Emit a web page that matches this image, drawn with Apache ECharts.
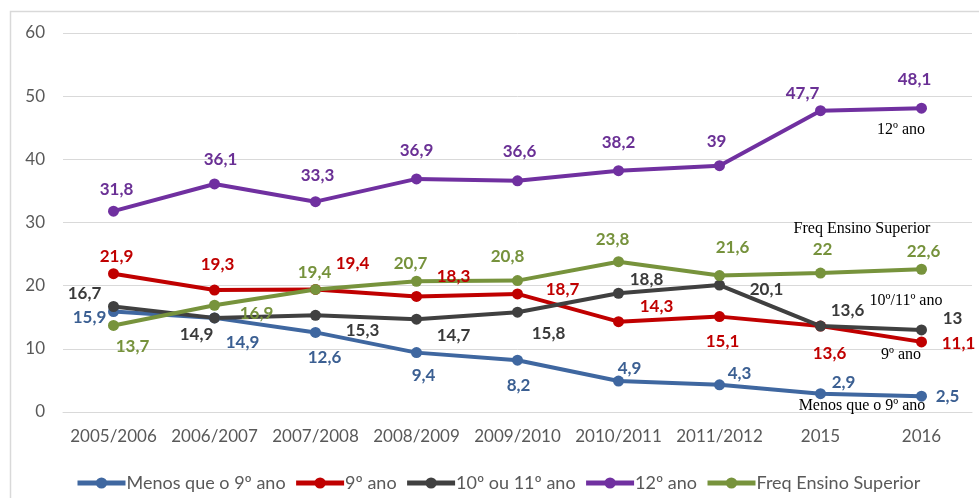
<!DOCTYPE html>
<html>
<head>
<meta charset="utf-8">
<script src="https://cdn.jsdelivr.net/npm/echarts@6/dist/echarts.min.js"></script>
<style>
  html, body { margin: 0; padding: 0; background: #ffffff; }
  #chart { width: 979px; height: 498px; }
</style>
</head>
<body>
<div id="chart"></div>
<script>
// School years / years on the horizontal axis
const categories = ['2005/2006', '2006/2007', '2007/2008', '2008/2009', '2009/2010', '2010/2011', '2011/2012', '2015', '2016'];

// Percentages by education level
const menosQue9 = [15.9, 14.9, 12.6, 9.4, 8.2, 4.9, 4.3, 2.9, 2.5];
const ano9 = [21.9, 19.3, 19.4, 18.3, 18.7, 14.3, 15.1, 13.6, 11.1];
const ano10ou11 = [16.7, 14.9, 15.3, 14.7, 15.8, 18.8, 20.1, 13.6, 13];
const ano12 = [31.8, 36.1, 33.3, 36.9, 36.6, 38.2, 39, 47.7, 48.1];
const freqSuperior = [13.7, 16.9, 19.4, 20.7, 20.8, 23.8, 21.6, 22, 22.6];

const seriesNames = ['Menos que o 9º ano', '9º ano', '10º ou 11º ano', '12º ano', 'Freq Ensino Superior'];
const yTicks = [0, 10, 20, 30, 40, 50, 60];

// Label placement (pixel offsets from each point)
const labelOffsets = {
  blue:   [[-24, 6], [28, 25], [9, 25], [7, 23], [1, 25], [11, -13], [20, -11], [23, -11], [26, 0]],
  red:    [[3, -17], [3, -26], [37, -26], [37, -20], [45, -4], [38, -15], [3, 25], [9, 27], [37, 2]],
  dark:   [[-29, -13], [-18, 17], [47, 15], [37, 16], [31, 21], [28, -14], [47, 4], [27, -16], [31, -11]],
  purple: [[3, -22], [6, -24], [2, -26], [0, -28], [2, -29], [0, -28], [-3, -24], [-18, -17], [-7, -29]],
  green:  [[19, 21], [42, 8], [-1, -17], [-6, -18], [-10, -24], [-6, -22], [13, -28], [2, -24], [2, -18]]
};

const colors = {
  blue: '#3f67a0',
  red: '#c00000',
  dark: '#404040',
  purple: '#7030a0',
  green: '#77933c'
};
const labelColors = {
  blue: '#3b5f92',
  red: '#c00000',
  dark: '#3a3a3a',
  purple: '#6a3095',
  green: '#76923c'
};

const FONT = 'Lato';

function makeSeries(name, values, key) {
  return {
    name: name,
    type: 'line',
    data: values.map((v, i) => ({
      value: v,
      label: { offset: labelOffsets[key][i] }
    })),
    symbol: 'circle',
    symbolSize: 11,
    lineStyle: { width: 4, color: colors[key] },
    itemStyle: { color: colors[key] },
    label: {
      show: true,
      position: 'inside',
      formatter: p => String(p.value).replace('.', ','),
      color: labelColors[key],
      fontFamily: FONT,
      fontWeight: 'bold',
      fontSize: 17
    },
    emphasis: { disabled: true },
    animation: false
  };
}

const chart = echarts.init(document.getElementById('chart'), null, { renderer: 'canvas' });

const annotationStyle = { fontFamily: 'Liberation Serif', fontSize: 16, fill: '#000000' };
function note(text, x, y) {
  return {
    type: 'text',
    x: x, y: y,
    style: Object.assign({ text: text, align: 'center', verticalAlign: 'middle' }, annotationStyle),
    z: 100
  };
}

chart.setOption({
  backgroundColor: '#ffffff',
  animation: false,
  grid: { left: 63, right: 7, top: 33, bottom: 86, containLabel: false },
  xAxis: {
    type: 'category',
    data: categories,
    boundaryGap: true,
    axisLine: { show: true, lineStyle: { color: '#d9d9d9', width: 1 } },
    axisTick: { show: false },
    axisLabel: { interval: 0, color: '#595959', fontFamily: FONT, fontSize: 17, margin: 16 }
  },
  yAxis: {
    type: 'value',
    min: yTicks[0],
    max: yTicks[yTicks.length - 1],
    interval: 10,
    axisLine: { show: false },
    axisTick: { show: false },
    splitLine: { lineStyle: { color: '#d9d9d9', width: 1 } },
    axisLabel: { color: '#595959', fontFamily: FONT, fontSize: 17, margin: 18 }
  },
  legend: {
    data: seriesNames,
    left: 70,
    top: 469,
    itemWidth: 48,
    itemHeight: 14,
    itemGap: 8,
    lineStyle: { width: 5 },
    textStyle: { color: '#595959', fontFamily: FONT, fontSize: 18, padding: [0, 0, 0, -4] }
  },
  graphic: [
    {
      type: 'rect',
      shape: { x: 10.5, y: 11.5, width: 1000, height: 520 },
      style: { fill: null, stroke: '#d9d9d9', lineWidth: 1.5 },
      silent: true,
      z: -10
    },
    note('12º ano', 901, 130),
    note('Freq Ensino Superior', 862, 229),
    note('10º/11º ano', 906, 301),
    note('9º ano', 901, 355),
    note('Menos que o 9º ano', 862, 406)
  ],
  series: [
    makeSeries(seriesNames[0], menosQue9, 'blue'),
    makeSeries(seriesNames[1], ano9, 'red'),
    makeSeries(seriesNames[2], ano10ou11, 'dark'),
    makeSeries(seriesNames[3], ano12, 'purple'),
    makeSeries(seriesNames[4], freqSuperior, 'green')
  ]
});
</script>
</body>
</html>
